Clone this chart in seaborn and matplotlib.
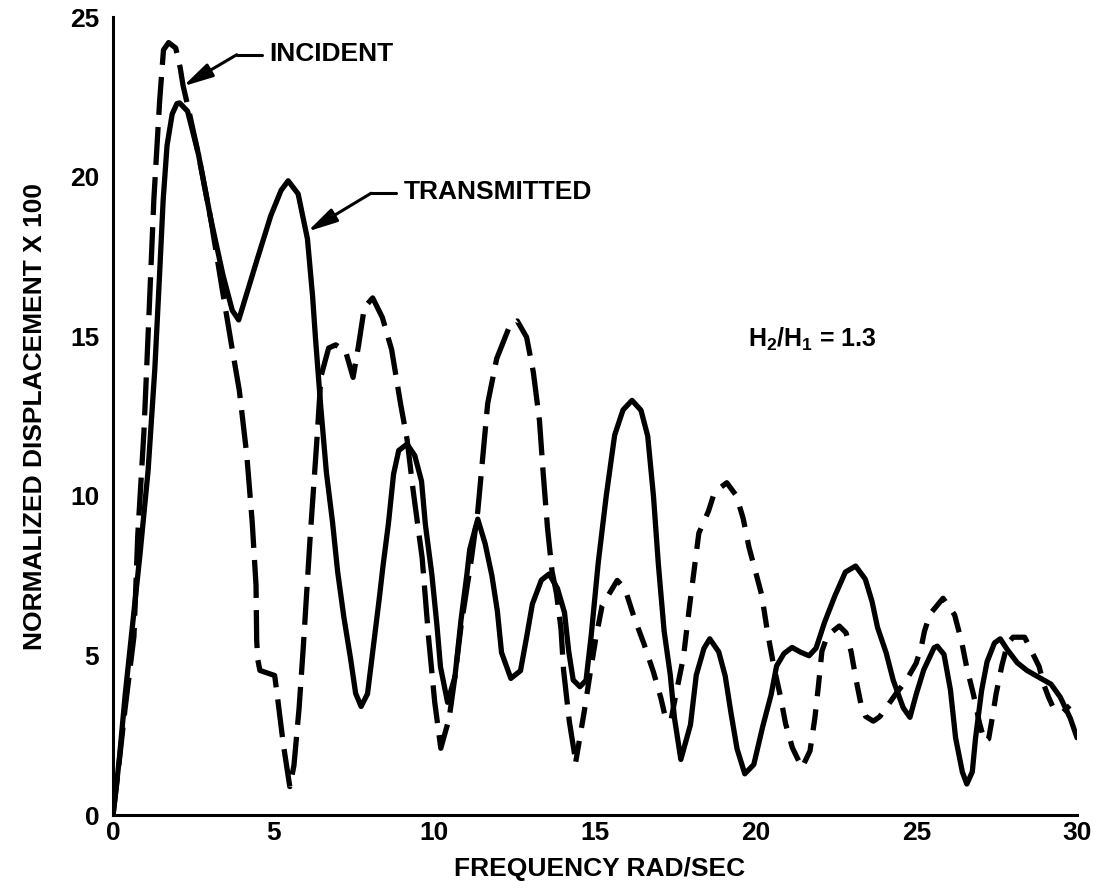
import pandas as pd
import matplotlib
matplotlib.use('Agg')
import matplotlib.pyplot as plt
import seaborn as sns

# values (frequency in rad/sec, displacement x 100)
incident_freq = [0, 0.14, 0.37, 0.65, 0.77, 0.96, 1.11, 1.27, 1.45, 1.57,
                 1.73, 1.95, 2.09, 2.18, 2.34, 2.66, 3.04, 3.39, 3.69, 3.93,
                 4.16, 4.33, 4.45, 4.47, 4.50, 4.57, 5.03, 5.12, 5.30, 5.50,
                 5.63, 5.79, 5.92, 6.13, 6.35, 6.47, 6.71, 6.93, 7.24, 7.47,
                 7.64, 7.82, 8.08, 8.38, 8.67, 8.95, 9.15, 9.34, 9.62, 9.82,
                 10.01, 10.20, 10.46, 10.64, 10.83, 11.15, 11.35, 11.66, 11.94, 12.33,
                 12.58, 12.87, 13.08, 13.27, 13.39, 13.52, 13.66, 13.80, 13.94, 14.02,
                 14.20, 14.40, 14.66, 14.86, 15.02, 15.22, 15.69, 15.93, 16.22, 16.52,
                 16.82, 17.05, 17.19, 17.36, 17.53, 17.75, 17.94, 18.23, 18.53, 18.72,
                 19.10, 19.40, 19.61, 19.79, 19.98, 20.19, 20.36, 20.56, 20.76, 20.93,
                 21.14, 21.44, 21.69, 21.84, 21.95, 22.06, 22.23, 22.60, 22.81, 22.97,
                 23.13, 23.27, 23.42, 23.66, 23.86, 24.07, 24.38, 24.68, 24.99, 25.15,
                 25.25, 25.42, 25.83, 26.19, 26.41, 26.57, 26.78, 26.96, 27.12, 27.25,
                 27.37, 27.48, 27.66, 27.84, 28.01, 28.37, 28.57, 28.82, 28.96, 29.11,
                 29.27, 29.57, 29.77]
incident_disp = [0, 1.20, 3.29, 5.59, 8.78, 11.98, 15.48, 19.28, 22.37, 23.97,
                 24.20, 24.03, 23.41, 22.85, 22.15, 20.69, 18.68, 16.52, 14.71, 13.30,
                 11.30, 9.19, 7.19, 5.49, 4.89, 4.53, 4.37, 3.67, 2.21, 0.89,
                 1.55, 3.35, 5.25, 8.64, 11.84, 13.74, 14.63, 14.73, 14.52, 13.71,
                 14.71, 15.90, 16.20, 15.59, 14.58, 12.87, 11.77, 10.16, 8.05, 5.55,
                 3.54, 2.09, 3.03, 4.33, 5.92, 8.01, 9.51, 12.90, 14.30, 15.29,
                 15.48, 14.97, 13.87, 12.36, 10.66, 9.00, 7.65, 6.94, 5.84, 4.54,
                 2.93, 1.67, 3.22, 4.52, 5.51, 6.56, 7.35, 7.09, 6.18, 5.37,
                 4.47, 3.66, 3.05, 2.95, 3.85, 4.94, 6.54, 8.83, 9.52, 10.12,
                 10.41, 10.00, 9.29, 8.39, 7.68, 6.88, 5.77, 4.67, 3.76, 2.86,
                 2.11, 1.48, 2.01, 3.03, 4.03, 5.13, 5.62, 5.92, 5.71, 5.11,
                 4.20, 3.50, 3.09, 2.94, 3.08, 3.38, 3.82, 4.21, 4.75, 5.25,
                 5.75, 6.29, 6.79, 6.27, 5.42, 4.61, 3.76, 2.90, 2.30, 2.39,
                 3.09, 3.79, 4.68, 5.38, 5.57, 5.57, 5.16, 4.65, 4.10, 3.70,
                 3.34, 3.23, 3.43]

transmitted_freq = [0, 0.19, 0.38, 0.61, 0.84, 1.09, 1.30, 1.45, 1.56, 1.68,
                    1.84, 1.99, 2.07, 2.32, 2.66, 3.04, 3.42, 3.71, 3.91, 4.15,
                    4.48, 4.91, 5.23, 5.45, 5.76, 6.05, 6.21, 6.30, 6.46, 6.64,
                    6.83, 6.99, 7.18, 7.39, 7.55, 7.72, 7.92, 8.09, 8.28, 8.40,
                    8.57, 8.73, 8.89, 9.15, 9.39, 9.60, 9.72, 9.92, 10.08, 10.19,
                    10.41, 10.64, 10.83, 11.01, 11.10, 11.35, 11.58, 11.79, 11.96, 12.09,
                    12.38, 12.68, 12.87, 13.05, 13.33, 13.57, 13.83, 14.05, 14.18, 14.32,
                    14.53, 14.72, 14.88, 15.10, 15.35, 15.61, 15.87, 16.15, 16.43, 16.64,
                    16.82, 16.97, 17.15, 17.34, 17.47, 17.67, 17.97, 18.15, 18.39, 18.57,
                    18.85, 19.05, 19.23, 19.42, 19.66, 19.94, 20.22, 20.48, 20.65, 20.88,
                    21.13, 21.40, 21.66, 21.88, 22.14, 22.47, 22.79, 23.11, 23.41, 23.62,
                    23.79, 24.06, 24.28, 24.59, 24.80, 25.00, 25.23, 25.55, 25.65, 25.86,
                    26.06, 26.22, 26.43, 26.57, 26.74, 26.84, 27.03, 27.20, 27.43, 27.61,
                    27.83, 28.14, 28.44, 28.75, 29.19, 29.48, 29.79, 30.0]
transmitted_disp = [0, 1.70, 3.79, 5.99, 8.18, 10.78, 13.97, 16.97, 19.27, 20.97,
                    21.96, 22.29, 22.31, 22.05, 20.69, 18.68, 16.92, 15.81, 15.51, 16.30,
                    17.39, 18.78, 19.57, 19.87, 19.46, 18.05, 16.25, 14.94, 12.84, 10.73,
                    9.18, 7.62, 6.22, 4.91, 3.81, 3.40, 3.80, 5.19, 6.74, 7.79,
                    9.13, 10.68, 11.42, 11.62, 11.26, 10.46, 9.10, 7.55, 5.94, 4.64,
                    3.53, 4.33, 6.12, 7.52, 8.32, 9.27, 8.50, 7.50, 6.39, 5.09,
                    4.28, 4.52, 5.57, 6.61, 7.36, 7.55, 7.10, 6.34, 5.13, 4.23,
                    4.02, 4.22, 5.62, 7.91, 10.01, 11.90, 12.69, 12.99, 12.68, 11.87,
                    9.97, 7.86, 5.76, 4.40, 3.05, 1.74, 2.83, 4.38, 5.22, 5.52,
                    5.11, 4.36, 3.20, 2.07, 1.29, 1.58, 2.78, 3.77, 4.67, 5.06,
                    5.25, 5.10, 4.99, 5.23, 6.03, 6.88, 7.61, 7.80, 7.39, 6.69,
                    5.88, 5.08, 4.22, 3.36, 3.06, 3.80, 4.55, 5.24, 5.29, 5.03,
                    3.92, 2.42, 1.35, 0.97, 1.35, 2.40, 3.90, 4.80, 5.39, 5.52,
                    5.18, 4.77, 4.53, 4.35, 4.10, 3.69, 3.03, 2.42]

x_ticks = [0, 5, 10, 15, 20, 25, 30]
y_ticks = [0, 5, 10, 15, 20, 25]
ratio_text = r'H$_2$/H$_1$ = 1.3'

# incident curve switches from long to short dashes at this minimum
dash_switch = 14.40

sns.set_theme(style='white')
plt.rcParams['font.family'] = ['Liberation Sans', 'DejaVu Sans']
plt.rcParams['font.weight'] = 'bold'
plt.rcParams['mathtext.fontset'] = 'custom'
plt.rcParams['mathtext.rm'] = 'Liberation Sans:bold'
plt.rcParams['mathtext.it'] = 'Liberation Sans:bold'
plt.rcParams['mathtext.bf'] = 'Liberation Sans:bold'
for key in ['text.color', 'axes.labelcolor', 'xtick.color', 'ytick.color']:
    plt.rcParams[key] = 'black'

inc = pd.DataFrame({'freq': incident_freq, 'disp': incident_disp})
tra = pd.DataFrame({'freq': transmitted_freq, 'disp': transmitted_disp})

fig = plt.figure(figsize=(11.05, 8.88), dpi=100)
ax = fig.add_axes([0.1023, 0.0822, 0.8724, 0.8986])

sns.lineplot(data=tra, x='freq', y='disp', ax=ax, color='black', lw=3.8,
             estimator=None, sort=False, solid_joinstyle='round',
             solid_capstyle='round')
sns.lineplot(data=inc[inc.freq <= dash_switch], x='freq', y='disp', ax=ax,
             color='black', lw=3.8, estimator=None, sort=False,
             linestyle=(0, (7.2, 2.3)), dash_joinstyle='round')
sns.lineplot(data=inc[inc.freq >= dash_switch], x='freq', y='disp', ax=ax,
             color='black', lw=3.8, estimator=None, sort=False,
             linestyle=(0, (4.0, 2.5)), dash_joinstyle='round')

ax.set_xlim(0, 30)
ax.set_ylim(0, 25)
ax.set_xticks(x_ticks)
ax.set_yticks(y_ticks)
ax.tick_params(direction='in', length=12, width=1.8, labelsize=19,
               colors='black')
ax.tick_params(axis='x', pad=4)
ax.tick_params(axis='y', pad=10)
for side in ['top', 'right']:
    ax.spines[side].set_visible(False)
for side in ['left', 'bottom']:
    ax.spines[side].set_linewidth(2.2)
    ax.spines[side].set_color('black')

ax.set_xlabel('FREQUENCY RAD/SEC', fontsize=19, fontweight='bold')
ax.xaxis.set_label_coords(0.505, -0.052)
ax.set_ylabel('NORMALIZED DISPLACEMENT X 100', fontsize=19, fontweight='bold')
ax.yaxis.set_label_coords(-0.068, 0.5)

arrow = dict(arrowstyle='-|>,head_length=0.9,head_width=0.22', color='black',
             lw=2.2, shrinkA=0, shrinkB=0, mutation_scale=20)

# INCIDENT label with elbow arrow
ax.plot([4.63, 3.85], [23.82, 23.82], color='black', lw=2.2)
ax.annotate('', xy=(2.18, 22.83), xytext=(3.85, 23.82), arrowprops=arrow)
ax.text(4.85, 23.83, 'INCIDENT', fontsize=19, fontweight='bold',
        ha='left', va='center')

# TRANSMITTED label with elbow arrow
ax.plot([8.81, 8.03], [19.48, 19.48], color='black', lw=2.2)
ax.annotate('', xy=(6.05, 18.28), xytext=(8.03, 19.48), arrowprops=arrow)
ax.text(9.05, 19.52, 'TRANSMITTED', fontsize=19, fontweight='bold',
        ha='left', va='center')

ax.text(19.75, 14.91, ratio_text, fontsize=18, fontweight='bold',
        ha='left', va='center')

fig.savefig('out.png', dpi=100)
